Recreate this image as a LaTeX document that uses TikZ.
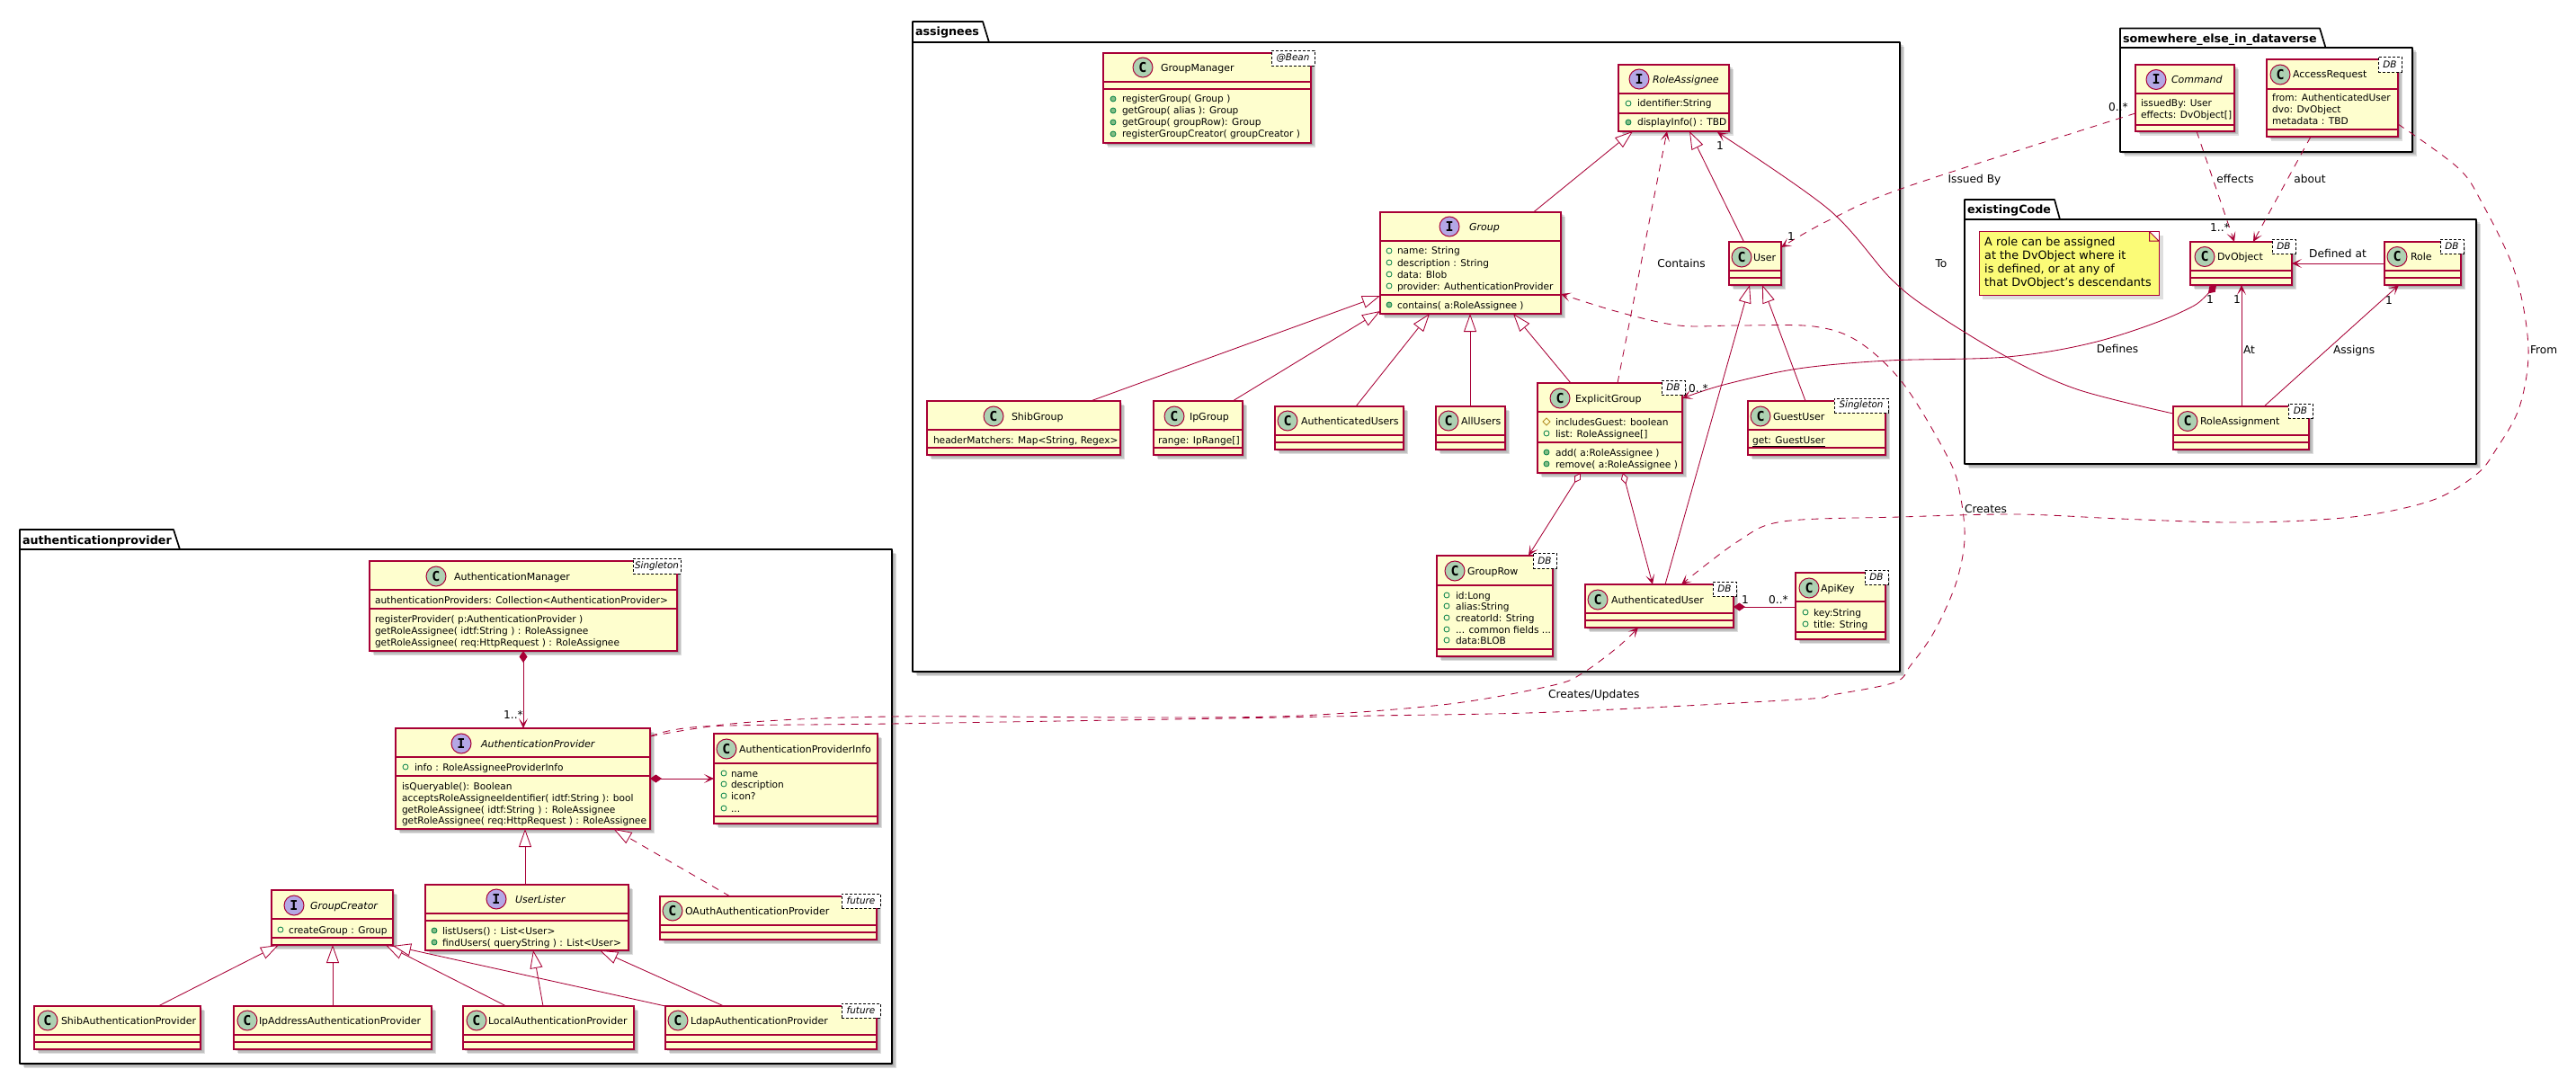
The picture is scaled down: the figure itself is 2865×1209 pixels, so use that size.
\documentclass[tikz,border=0pt]{standalone}
\usepackage{fontspec}
\setmainfont{DejaVu Sans}
\setmonofont{DejaVu Sans Mono}
\usetikzlibrary{arrows.meta}
\definecolor{umlred}{HTML}{A80036}
\definecolor{umlfill}{HTML}{FEFECE}
\definecolor{iconc}{HTML}{ADD1B2}
\definecolor{iconi}{HTML}{B4A7E5}
\definecolor{notefill}{HTML}{FBFB77}
\definecolor{pubgreen}{HTML}{038048}
\definecolor{pubfill}{HTML}{84BE84}
\definecolor{protc}{HTML}{B38D22}
\tikzset{
  Vt/.tip={Stealth[length=11pt,width=10pt,inset=6pt]},
  Tr/.tip={Triangle[fill=white,length=20pt,width=14pt]},
  Cd/.tip={Diamond[length=13pt,width=9pt]},
  Ad/.tip={Diamond[fill=white,length=13pt,width=8pt]},
  lnk/.style={draw=umlred,line width=0.85pt,color=umlred},
  dep/.style={lnk,dash pattern=on 8pt off 7pt},
  curve/.style={smooth,tension=0.55},
  classbox/.style={draw=umlred,fill=umlfill,line width=1.2pt,inner sep=0pt,outer sep=0pt,anchor=north west},
  sepline/.style={draw=umlred,line width=1.2pt},
  softshadow/.style={fill=black,fill opacity=0.13},
  txt/.style={anchor=base west,inner sep=0pt,outer sep=0pt,font=\fontsize{11}{13}\selectfont,text=black},
  txtm/.style={txt,font=\fontsize{10.6}{13}\selectfont},
  lab/.style={anchor=base,inner sep=0pt,outer sep=0pt,font=\fontsize{12.2}{14}\selectfont,text=black},
  stereo/.style={draw=black,fill=white,densely dashed,line width=0.7pt,inner sep=0pt,outer sep=0pt,anchor=center,font=\fontsize{10.4}{12}\selectfont\itshape,text=black},
  iconbox/.style={circle,draw=umlred,line width=1pt,minimum size=22pt,inner sep=0pt,font=\fontsize{15}{15}\selectfont\ttfamily\bfseries,text=black},
  pkgline/.style={draw=black,fill=white,line width=1.7pt,line join=round},
  pkgtitle/.style={anchor=base west,inner sep=0pt,outer sep=0pt,font=\fontsize{12.7}{14}\selectfont\bfseries,text=black},
}
\newcounter{tn}
\newcommand{\nextname}{\stepcounter{tn}}
% name x1 y1 x2 y2 sep1 sep2
\newcommand{\umlcls}[7]{%
  \foreach \d in {2,3.5,5}{\fill[softshadow] (#2+\d,#3+\d) rectangle (#4+\d,#5+\d);}%
  \pgfmathsetmacro\ww{#4-#2}\pgfmathsetmacro\hh{#5-#3}%
  \node[classbox,minimum width=\ww pt,minimum height=\hh pt] (#1) at (#2,#3) {};%
  \draw[sepline] (#1.west |- 0,#6) -- (#1.east |- 0,#6);%
  \draw[sepline] (#1.west |- 0,#7) -- (#1.east |- 0,#7);}
\newcommand{\umlicon}[4]{\nextname\node[iconbox,fill=#1] (t\arabic{tn}) at (#3,#4) {#2};}
\newcommand{\umltx}[4][]{\nextname\node[txt,#1] (t\arabic{tn}) at (#2,#3+4) {#4};}
\newcommand{\umlmem}[3]{\nextname\node[txtm] (t\arabic{tn}) at (#1,#2+4) {#3};}
\newcommand{\umllab}[3]{\nextname\node[lab] (t\arabic{tn}) at (#1,#2+4.3) {#3};}
\newcommand{\umllabl}[3]{\nextname\node[lab,anchor=base west] (t\arabic{tn}) at (#1,#2+4.3) {#3};}
\newcommand{\mAttr}[4]{\draw[pubgreen,line width=0.8pt] (#1,#3) circle (3pt);\umlmem{#2}{#3}{#4}}
\newcommand{\mMeth}[4]{\draw[pubgreen,fill=pubfill,line width=0.8pt] (#1,#3) circle (3pt);\umlmem{#2}{#3}{#4}}
\newcommand{\mProt}[4]{\draw[protc,line width=0.8pt] (#1,#3-4) -- (#1+4,#3) -- (#1,#3+4) -- (#1-4,#3) -- cycle;\umlmem{#2}{#3}{#4}}
% x1 y1 x2 y2 text
\newcommand{\umlst}[5]{\nextname\pgfmathsetmacro\ww{#3-#1}\pgfmathsetmacro\hh{#4-#2}%
  \node[stereo,minimum width=\ww pt,minimum height=\hh pt] (t\arabic{tn}) at ({(#1+#3)/2},{(#2+#4)/2}) {#5};}
% name x1 ytop xtabtop xtab ybody x2 y2 title
\newcommand{\umlpkg}[9]{%
  \foreach \d in {2,3.5,5}{\fill[softshadow] (#2+\d,#6+\d) rectangle (#7+\d,#8+\d);}%
  \draw[pkgline] (#2,#6) -- (#2,#3) -- (#4,#3) -- (#5,#6) -- cycle;%
  \pgfmathsetmacro\ww{#7-#2}\pgfmathsetmacro\hh{#8-#6}%
  \node[pkgline,inner sep=0pt,outer sep=0pt,anchor=north west,minimum width=\ww pt,minimum height=\hh pt] (#1) at (#2,#6) {};%
  \nextname\node[pkgtitle] (t\arabic{tn}) at (#2+3,#3+16) {#9};}
\begin{document}
\begin{tikzpicture}[x=1pt,y=-1pt]
\useasboundingbox (0,0) rectangle (2865,1209);
\fill[white] (0,0) rectangle (2865,1209);

% ---------- packages
\umlpkg{assignees}{1015}{24}{1093}{1100}{47}{2113}{747}{assignees}
\umlpkg{somewhere}{2358}{31.5}{2580}{2586.5}{53}{2683}{169}{somewhere\_else\_in\_dataverse}
\umlpkg{existingCode}{2185}{222}{2285}{2291}{244}{2754}{516}{existingCode}
\umlpkg{authenticationprovider}{22}{589}{193}{200}{611}{992}{1183}{authenticationprovider}

% ---------- assignees
\umlcls{GroupManager}{1227}{59}{1458}{159}{91}{99}
\umlicon{iconc}{C}{1271}{75}
\umltx{1291}{76}{GroupManager}
\umlst{1414}{56}{1462}{73}{@Bean}
\mMeth{1238}{1248}{110}{registerGroup( Group )}
\mMeth{1238}{1248}{123}{getGroup( alias ): Group}
\mMeth{1238}{1248}{136}{getGroup( groupRow): Group}
\mMeth{1238}{1248}{149}{registerGroupCreator( groupCreator )}

\umlcls{RoleAssignee}{1800}{72}{1923}{146}{104}{126}
\umlicon{iconi}{I}{1823}{88}
\umltx[font=\fontsize{11}{13}\selectfont\itshape]{1838}{89}{RoleAssignee}
\mAttr{1811}{1821}{115}{identifier:String}
\mMeth{1811}{1821}{136}{displayInfo() : TBD}

\umlcls{Group}{1535}{236}{1736}{349}{268}{328}
\umlicon{iconi}{I}{1612}{252}
\umltx[font=\fontsize{11}{13}\selectfont\itshape]{1634}{253}{Group}
\mAttr{1545}{1554}{279}{name: String}
\mAttr{1545}{1554}{292}{description : String}
\mAttr{1545}{1554}{305}{data: Blob}
\mAttr{1545}{1554}{318}{provider: AuthenticationProvider}
\mMeth{1545}{1554}{339}{contains( a:RoleAssignee )}

\umlcls{User}{1923}{269}{1981}{317}{301}{309}
\umlicon{iconc}{C}{1937}{286}
\umltx{1950}{286}{User}

\umlcls{ShibGroup}{1031}{446}{1246}{506}{478}{498}
\umlicon{iconc}{C}{1105}{463}
\umltx{1125}{463}{ShibGroup}
\umlmem{1038}{489}{headerMatchers: Map<String, Regex>}

\umlcls{IpGroup}{1283}{446}{1382}{506}{478}{498}
\umlicon{iconc}{C}{1306}{463}
\umltx{1323}{463}{IpGroup}
\umlmem{1288}{489}{range: IpRange[]}

\umlcls{AuthenticatedUsers}{1418}{452}{1561}{500}{484}{492}
\umlicon{iconc}{C}{1432}{468}
\umltx{1447}{468}{AuthenticatedUsers}

\umlcls{AllUsers}{1597}{452}{1674}{500}{484}{492}
\umlicon{iconc}{C}{1611}{468}
\umltx{1625}{468}{AllUsers}

\umlcls{ExplicitGroup}{1710}{426}{1871}{526}{458}{492}
\umlicon{iconc}{C}{1735}{443}
\umltx{1752}{443}{ExplicitGroup}
\umlst{1848}{423}{1874}{439}{DB}
\mProt{1720}{1730}{469}{includesGuest: boolean}
\mAttr{1720}{1730}{482}{list: RoleAssignee[]}
\mMeth{1720}{1730}{503}{add( a:RoleAssignee )}
\mMeth{1720}{1730}{516}{remove( a:RoleAssignee )}

\umlcls{GuestUser}{1944}{446}{2097}{506}{478}{498}
\umlicon{iconc}{C}{1958}{463}
\umltx{1972}{463}{GuestUser}
\umlst{2040}{443}{2100}{459}{Singleton}
\umlmem{1949}{489}{\underline{get: GuestUser}}

\umlcls{GroupRow}{1598}{618}{1727}{730}{651}{722}
\umlicon{iconc}{C}{1618}{635}
\umltx{1632}{635}{GroupRow}
\umlst{1705}{615}{1731}{632}{DB}
\mAttr{1609}{1619}{662}{id:Long}
\mAttr{1609}{1619}{674}{alias:String}
\mAttr{1609}{1619}{687}{creatorId: String}
\mAttr{1609}{1619}{700}{... common fields ...}
\mAttr{1609}{1619}{712}{data:BLOB}

\umlcls{AuthenticatedUser}{1763}{650}{1928}{698}{682}{690}
\umlicon{iconc}{C}{1777}{667}
\umltx{1792}{667}{AuthenticatedUser}
\umlst{1905}{647}{1931}{663}{DB}

\umlcls{ApiKey}{1997}{637}{2097}{711}{669}{703}
\umlicon{iconc}{C}{2012}{654}
\umltx{2025}{654}{ApiKey}
\umlst{2074}{634}{2100}{650}{DB}
\mAttr{2008}{2017}{681}{key:String}
\mAttr{2008}{2017}{694}{title: String}

% ---------- somewhere else
\umlcls{Command}{2375}{72}{2485}{146}{104}{139}
\umlicon{iconi}{I}{2398}{88.5}
\umltx[font=\fontsize{11}{13}\selectfont\itshape]{2415}{89}{Command}
\umlmem{2381}{115}{issuedBy: User}
\umlmem{2381}{128}{effects: DvObject[]}

\umlcls{AccessRequest}{2521}{66}{2667}{152}{99}{144}
\umlicon{iconc}{C}{2536}{83}
\umltx{2550}{83}{AccessRequest}
\umlst{2645}{63}{2671}{80}{DB}
\umlmem{2527}{109}{from: AuthenticatedUser}
\umlmem{2527}{122}{dvo: DvObject}
\umlmem{2527}{135}{metadata : TBD}

% ---------- existing code
\draw[softshadow,draw=none] (2205,262) rectangle (2406,333);
\node[draw=umlred,fill=notefill,line width=1pt,inner sep=0pt,outer sep=0pt,anchor=north west,
      minimum width=200pt,minimum height=70.5pt,
      path picture={\fill[white] (path picture bounding box.north east) ++(-11,0) -- ++(11,0) -- ++(0,11) -- cycle;
                    \draw[umlred,line width=1pt,fill=notefill] (path picture bounding box.north east) ++(-10.5,0) -- ++(0,10.5) -- ++(10.5,0) -- cycle;}]
      (noteRole) at (2201,257.5) {};
\nextname\node[anchor=north west,inner sep=0pt,align=left,font=\fontsize{12.8}{15.1}\selectfont,text=black] (t\arabic{tn}) at (2207,263.5)
  {A role can be assigned\\at the DvObject where it\\is defined, or at any of\\that DvObject's descendants};

\umlcls{DvObject}{2436}{269}{2549}{317}{301}{309}
\umlicon{iconc}{C}{2452}{285.5}
\umltx{2466}{285.5}{DvObject}
\umlst{2527}{266}{2553}{282}{DB}

\umlcls{Role}{2652}{269}{2737}{317}{301}{309}
\umlicon{iconc}{C}{2666}{285.5}
\umltx{2681}{285.5}{Role}
\umlst{2714}{266}{2740}{282}{DB}

\umlcls{RoleAssignment}{2417}{452}{2568}{500}{484}{492}
\umlicon{iconc}{C}{2433}{468.5}
\umltx{2447}{468.5}{RoleAssignment}
\umlst{2545}{449}{2572}{465}{DB}

% ---------- authentication provider
\umlcls{AuthenticationManager}{411}{624}{753}{724}{656}{677}
\umlicon{iconc}{C}{485}{641}
\umltx{505}{641}{AuthenticationManager}
\umlst{704}{621}{757}{638}{Singleton}
\umlmem{417}{667}{authenticationProviders: Collection<AuthenticationProvider>}
\umlmem{417}{688}{registerProvider( p:AuthenticationProvider )}
\umlmem{417}{701}{getRoleAssignee( idtf:String ) : RoleAssignee}
\umlmem{417}{714}{getRoleAssignee( req:HttpRequest ) : RoleAssignee}

\umlcls{AuthenticationProvider}{440}{810}{723}{922}{842}{863}
\umlicon{iconi}{I}{513}{827}
\umltx[font=\fontsize{11}{13}\selectfont\itshape]{535}{827}{AuthenticationProvider}
\mAttr{451}{461}{853}{info : RoleAssigneeProviderInfo}
\umlmem{447}{874}{isQueryable(): Boolean}
\umlmem{447}{887}{acceptsRoleAssigneeIdentifier( idtf:String ): bool}
\umlmem{447}{900}{getRoleAssignee( idtf:String ) : RoleAssignee}
\umlmem{447}{912}{getRoleAssignee( req:HttpRequest ) : RoleAssignee}

\umlcls{AuthenticationProviderInfo}{794}{816}{976}{916}{849}{908}
\umlicon{iconc}{C}{808}{833}
\umltx{822}{833}{AuthenticationProviderInfo}
\mAttr{805}{813}{860}{name}
\mAttr{805}{813}{872}{description}
\mAttr{805}{813}{885}{icon?}
\mAttr{805}{813}{899}{...}

\umlcls{GroupCreator}{302}{990}{437}{1051}{1022}{1043}
\umlicon{iconi}{I}{327}{1007}
\umltx[font=\fontsize{11}{13}\selectfont\itshape]{345}{1007}{GroupCreator}
\mAttr{312}{321}{1034}{createGroup : Group}

\umlcls{UserLister}{473}{984}{699}{1057}{1016}{1024}
\umlicon{iconi}{I}{552}{1000}
\umltx[font=\fontsize{11}{13}\selectfont\itshape]{573}{1000}{UserLister}
\mMeth{483}{492}{1035}{listUsers() : List<User>}
\mMeth{483}{492}{1048}{findUsers( queryString ) : List<User>}

\umlcls{OAuthAuthenticationProvider}{734}{997}{975}{1045}{1029}{1037}
\umlicon{iconc}{C}{748}{1013}
\umltx{762}{1013}{OAuthAuthenticationProvider}
\umlst{936}{994}{979}{1010}{future}

\umlcls{ShibAuthenticationProvider}{38}{1119}{223}{1167}{1151}{1159}
\umlicon{iconc}{C}{53}{1135}
\umltx{68}{1135}{ShibAuthenticationProvider}

\umlcls{IpAddressAuthenticationProvider}{260}{1119}{480}{1167}{1151}{1159}
\umlicon{iconc}{C}{275}{1135}
\umltx{288}{1135}{IpAddressAuthenticationProvider}

\umlcls{LocalAuthenticationProvider}{515}{1119}{705}{1167}{1151}{1159}
\umlicon{iconc}{C}{530}{1135}
\umltx{543}{1135}{LocalAuthenticationProvider}

\umlcls{LdapAuthenticationProvider}{740}{1119}{975}{1167}{1151}{1159}
\umlicon{iconc}{C}{754}{1135}
\umltx{768}{1135}{LdapAuthenticationProvider}
\umlst{936}{1116}{979}{1132}{future}

% ---------- connectors: assignees
\draw[lnk,-{Tr}] (1705.5,0 |- Group.north) -- (1816,0 |- RoleAssignee.south);
\draw[lnk,-{Tr}] (1939.5,0 |- User.north) -- (1879,0 |- RoleAssignee.south);
\draw[dep,-{Vt}] (1799,0 |- ExplicitGroup.north) -- (1854,0 |- RoleAssignee.south);
\draw[lnk,-{Tr}] (1213,0 |- ShibGroup.north) -- (Group.west |- 0,329);
\draw[lnk,-{Tr}] (1371,0 |- IpGroup.north) -- (Group.west |- 0,346);
\draw[lnk,-{Tr}] (1508,0 |- AuthenticatedUsers.north) -- (1590,0 |- Group.south);
\draw[lnk,-{Tr}] (1635,0 |- AllUsers.north) -- (1635,0 |- Group.south);
\draw[lnk,-{Tr}] (1747,0 |- ExplicitGroup.north) -- (1683,0 |- Group.south);
\draw[lnk,-{Tr}] (2008,0 |- GuestUser.north) -- (1960,0 |- User.south);
\draw[lnk,-{Tr}] (1852,0 |- AuthenticatedUser.north) -- (1946,0 |- User.south);
\draw[lnk,{Ad}-{Vt}] (1758,0 |- ExplicitGroup.south) -- (1700,0 |- GroupRow.north);
\draw[lnk,{Ad}-{Vt}] (1805,0 |- ExplicitGroup.south) -- (1838,0 |- AuthenticatedUser.north);
\draw[lnk,{Cd}-] (AuthenticatedUser.east |- 0,675) -- (ApiKey.west |- 0,675);

% long curves
\draw[lnk,-{Vt}] plot[curve] coordinates {(RoleAssignment.west |- 0,460) (2310,433) (2232,397) (2150,347) (2103,310) (2034,233) (1910,147)};
\draw[dep,-{Vt}] plot[curve] coordinates {(Command.west |- 0,126) (2120,208) (2034,245) (User.east |- 0,275)};
\draw[lnk,{Cd}-{Vt}] plot[curve] coordinates {(2465,0 |- DvObject.south) (2424,348) (2332,380) (2232,397) (2100,401) (2000,410) (1917,428) (ExplicitGroup.east |- 0,443)};
\draw[dep,-{Vt}] plot[curve] coordinates {(AccessRequest.east |- 0,138) (2733,186) (2759,223) (2797,303) (2812,387) (2802,453) (2776,500) (2755,527) (2709,555) (2639,572) (2563,579) (2475,581) (2358,577) (2242,572) (2113,575) (1983,580) (1933,602) (1870,0 |- AuthenticatedUser.north)};
\draw[dep,-{Vt}] plot[curve] coordinates {(AuthenticationProvider.east |- 0,819) (783,808) (990,805) (1363,799) (1529,796) (1728,792) (2000,778) (2037,773) (2107,759) (2125,740) (2151,703) (2175,650) (2185,600) (2180,550) (2167,510) (2117,427) (2067,380) (2017,363) (1933,362) (1867,362) (1800,347) (Group.east |- 0,327)};
\draw[dep,-{Vt}] plot[curve] coordinates {(AuthenticationProvider.east |- 0,819) (824,804) (990,797) (1280,798) (1446,796) (1612,783) (1728,762) (1761,748) (1799,720) (1822,0 |- AuthenticatedUser.south)};

% ---------- connectors: somewhere else / existing code
\draw[dep,-{Vt}] (2443,0 |- Command.south) -- (2485,0 |- DvObject.north);
\draw[dep,-{Vt}] (2570,0 |- AccessRequest.south) -- (2506,0 |- DvObject.north);
\draw[lnk,-{Vt}] (Role.west |- 0,293) -- (DvObject.east |- 0,293);
\draw[lnk,-{Vt}] (2493,0 |- RoleAssignment.north) -- (2493,0 |- DvObject.south);
\draw[lnk,-{Vt}] (2518,0 |- RoleAssignment.north) -- (2668,0 |- Role.south);

% ---------- connectors: authentication provider
\draw[lnk,{Cd}-{Vt}] (582,0 |- AuthenticationManager.south) -- (582,0 |- AuthenticationProvider.north);
\draw[lnk,{Cd}-{Vt}] (AuthenticationProvider.east |- 0,866) -- (AuthenticationProviderInfo.west |- 0,866);
\draw[lnk,-{Tr}] (584,0 |- UserLister.north) -- (584,0 |- AuthenticationProvider.south);
\draw[dep,-{Tr}] (812,0 |- OAuthAuthenticationProvider.north) -- (682.5,0 |- AuthenticationProvider.south);
\draw[lnk,-{Tr}] (176,0 |- ShibAuthenticationProvider.north) -- (310,0 |- GroupCreator.south);
\draw[lnk,-{Tr}] (370,0 |- IpAddressAuthenticationProvider.north) -- (370,0 |- GroupCreator.south);
\draw[lnk,-{Tr}] (563,0 |- LocalAuthenticationProvider.north) -- (429,0 |- GroupCreator.south);
\draw[lnk,-{Tr}] (740,0 |- LdapAuthenticationProvider.north) -- (GroupCreator.east |- 0,1052);
\draw[lnk,-{Tr}] (604,0 |- LocalAuthenticationProvider.north) -- (593,0 |- UserLister.south);
\draw[lnk,-{Tr}] (805,0 |- LdapAuthenticationProvider.north) -- (667,0 |- UserLister.south);

% ---------- connector labels
\umllab{1870}{293}{Contains}
\umllab{1913}{162}{1}
\umllab{1992}{263}{1}
\umllab{1889}{432}{0..*}
\umllab{1941}{667}{1}
\umllab{1978}{667}{0..*}
\umllab{2159}{293}{To}
\umllab{2196}{199}{Issued By}
\umllab{2356}{119}{0..*}
\umllab{2486}{199}{effects}
\umllab{2569}{199}{about}
\umllab{2469}{253}{1..*}
\umllab{2600}{282}{Defined at}
\umllab{2458}{333}{1}
\umllab{2488}{333}{1}
\umllab{2657}{334}{1}
\umllab{2355}{388}{Defines}
\umllabl{2495}{389}{At}
\umllabl{2595}{389}{Assigns}
\umllabl{2814}{389}{From}
\umllabl{2185}{566}{Creates}
\umllabl{1722}{772}{Creates/Updates}
\umllab{571}{795}{1..*}
\end{tikzpicture}
\end{document}
